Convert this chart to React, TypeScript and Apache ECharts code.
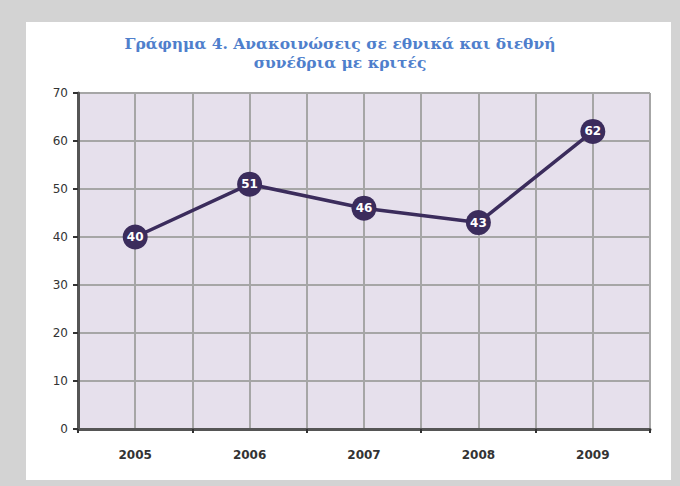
import React, { useEffect, useRef } from "react";
import * as echarts from "echarts";

const titleLines = ["Γράφημα 4. Ανακοινώσεις σε εθνικά και διεθνή", "συνέδρια με κριτές"];
const years = ["2005", "2006", "2007", "2008", "2009"];
const values = [40, 51, 46, 43, 62];
const yMin = 0;
const yMax = 70;
const yStep = 10;

export default function App() {
  const ref = useRef<HTMLDivElement>(null);
  useEffect(() => {
    if (!ref.current) return;
    const chart = echarts.init(ref.current, null, { renderer: "svg" });
    chart.setOption({
      animation: false,
      backgroundColor: "#d3d3d3",
      graphic: [
        { type: "rect", shape: { x: 26, y: 22, width: 645, height: 458 }, style: { fill: "#ffffff" }, z: -10 },
      ],
      title: {
        text: titleLines.join("\n"),
        left: "center",
        top: 29,
        textStyle: {
          fontFamily: "DejaVu Serif",
          fontWeight: "bold",
          fontSize: 15.5,
          color: "#4f7fcc",
          lineHeight: 19,
        },
      },
      grid: {
        left: 78,
        top: 93,
        width: 572,
        height: 336,
        show: true,
        backgroundColor: "#e6e0ec",
        borderWidth: 0,
      },
      xAxis: [
        {
          type: "category",
          data: years,
          boundaryGap: true,
          position: "bottom",
          axisLine: { show: true, lineStyle: { color: "#555555", width: 3 } },
          axisTick: { show: true, length: 4, lineStyle: { color: "#333333", width: 2 } },
          axisLabel: { margin: 20, fontFamily: "DejaVu Sans", fontSize: 12, color: "#333333", fontWeight: "bold" },
          splitLine: { show: false },
          z: 5,
        },
        {
          type: "value",
          min: 0,
          max: 10,
          interval: 1,
          position: "top",
          axisLine: { show: false },
          axisTick: { show: false },
          axisLabel: { show: false },
          splitLine: { show: true, lineStyle: { color: "#a6a6a6", width: 2 } },
        },
      ],
      yAxis: {
        type: "value",
        min: yMin,
        max: yMax,
        interval: yStep,
        axisLine: { show: true, lineStyle: { color: "#555555", width: 3 } },
        axisTick: { show: true, length: 5, lineStyle: { color: "#333333", width: 2 } },
        axisLabel: { margin: 10, fontFamily: "DejaVu Sans", fontSize: 12, color: "#333333" },
        splitLine: { show: true, lineStyle: { color: "#a6a6a6", width: 2 } },
        z: 5,
      },
      series: [
        {
          type: "line",
          xAxisIndex: 0,
          data: values,
          symbol: "circle",
          symbolSize: 25,
          lineStyle: { color: "#3b2c5c", width: 3.5 },
          itemStyle: { color: "#3b2c5c" },
          label: {
            show: true,
            position: "inside",
            color: "#ffffff",
            fontFamily: "DejaVu Sans",
            fontSize: 12,
            fontWeight: "bold",
          },
          z: 10,
        },
      ],
    });
    return () => chart.dispose();
  }, []);
  return (
    <div
      ref={ref}
      style={{ position: "fixed", left: 0, top: 0, width: 680, height: 486 }}
    />
  );
}
